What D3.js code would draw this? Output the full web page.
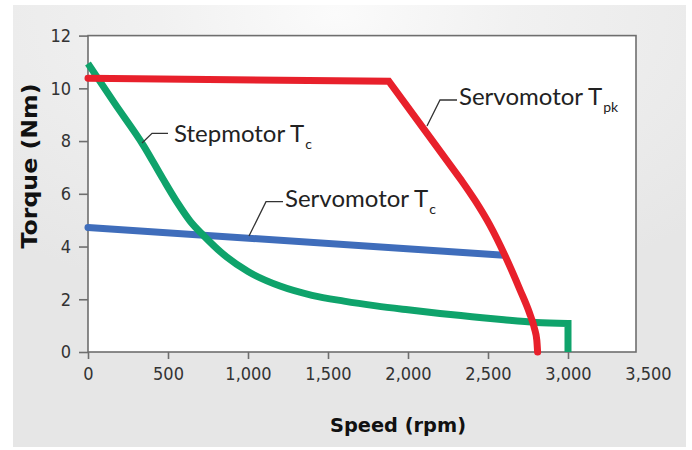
<!DOCTYPE html>
<html><head><meta charset="utf-8">
<script src="https://cdn.jsdelivr.net/npm/d3@7"></script>
<style>
html,body{margin:0;padding:0;background:#fff;}
svg{display:block;}
</style></head>
<body>
<svg id="chart" width="692" height="450"></svg>
<script>
// ---- data ----
const xTicks = [0, 500, 1000, 1500, 2000, 2500, 3000, 3500];
const yTicks = [0, 2, 4, 6, 8, 10, 12];
const servoPeakSpeed = [0, 1880, 2120, 2335, 2420, 2510, 2606, 2700, 2760, 2790, 2805, 2810];
const servoPeakTorque = [10.38, 10.27, 8.28, 6.5, 5.74, 4.83, 3.66, 2.36, 1.47, 0.9, 0.45, 0];
const stepSpeed = [0, 170, 346, 470, 560, 640, 720, 867, 1000, 1200, 1400, 1600, 1800, 2000, 2200, 2400, 2600, 2800, 3000, 3000];
const stepTorque = [10.94, 9.4, 7.84, 6.55, 5.65, 4.95, 4.43, 3.6, 3.05, 2.5, 2.15, 1.93, 1.75, 1.6, 1.46, 1.34, 1.22, 1.12, 1.08, 0];
const servoContSpeed = [0, 2600];
const servoContTorque = [4.72, 3.67];
const xLabel = "Speed (rpm)";
const yLabel = "Torque (Nm)";

const svg = d3.select("#chart");
const x = d3.scaleLinear().domain([0, 3500]).range([88, 648]);
const y = d3.scaleLinear().domain([0, 12]).range([352, 35.6]);
const frameRight = 636;

// background panel
const defs = svg.append("defs");
const rg = defs.append("radialGradient").attr("id", "bg").attr("cx", "0.48").attr("cy", "0.02").attr("r", "0.75")
  .attr("gradientTransform", "translate(0.48,0.02) scale(1,0.9) translate(-0.48,-0.02)");
rg.append("stop").attr("offset", "0").attr("stop-color", "#fbfbfb");
rg.append("stop").attr("offset", "0.35").attr("stop-color", "#f1f1f1");
rg.append("stop").attr("offset", "1").attr("stop-color", "#e6e6e6");
svg.append("rect").attr("x", 13).attr("y", 5).attr("width", 673).attr("height", 442).attr("fill", "url(#bg)");

// plot area
svg.append("rect").attr("x", x(0)).attr("y", y(12)).attr("width", frameRight - x(0)).attr("height", y(0) - y(12))
  .attr("fill", "#ffffff").attr("stroke", "#6e6e6e").attr("stroke-width", 1.6);

const tickFont = "'DejaVu Sans Condensed','Liberation Sans Narrow','Liberation Sans',sans-serif";

// y axis
const yAxis = svg.append("g").attr("transform", `translate(${x(0)},0)`)
  .call(d3.axisLeft(y).tickValues(yTicks).tickSize(9).tickPadding(8).tickFormat(d3.format("d")));
yAxis.select(".domain").remove();
yAxis.selectAll("line").attr("stroke", "#6e6e6e").attr("stroke-width", 1.6);
yAxis.selectAll("text").attr("font-family", tickFont).attr("font-size", 18).attr("fill", "#333");

// x axis
const xAxis = svg.append("g").attr("transform", `translate(0,${y(0)})`)
  .call(d3.axisBottom(x).tickValues(xTicks).tickSize(7).tickPadding(8).tickFormat(d3.format(",")));
xAxis.select(".domain").remove();
xAxis.selectAll("line").attr("stroke", "#6e6e6e").attr("stroke-width", 1.6);
xAxis.selectAll(".tick").filter(d => d === 3500).select("line").remove();
xAxis.selectAll("text").attr("font-family", tickFont).attr("font-size", 18).attr("fill", "#333");

// axis titles
const titleFont = "'DejaVu Sans', Lato, sans-serif";
svg.append("text").attr("x", 398).attr("y", 432).attr("text-anchor", "middle")
  .attr("font-family", titleFont).attr("font-weight", 700).attr("font-size", 19).attr("fill", "#111")
  .attr("textLength", 136).attr("lengthAdjust", "spacingAndGlyphs")
  .text(xLabel);
svg.append("text").attr("transform", "translate(37,166) rotate(-90)").attr("text-anchor", "middle")
  .attr("font-family", titleFont).attr("font-weight", 700).attr("font-size", 21).attr("fill", "#111")
  .attr("textLength", 165).attr("lengthAdjust", "spacingAndGlyphs")
  .text(yLabel);

// series
const line = d3.line().x(d => x(d[0])).y(d => y(d[1]));
const curve = d3.line().x(d => x(d[0])).y(d => y(d[1])).curve(d3.curveMonotoneX);

const blue = servoContSpeed.map((s, i) => [s, servoContTorque[i]]);
svg.append("path").attr("d", line(blue)).attr("fill", "none").attr("stroke", "#3f6dbb")
  .attr("stroke-width", 7).attr("stroke-linecap", "round");

const step = stepSpeed.map((s, i) => [s, stepTorque[i]]);
const stepCurve = step.slice(0, step.length - 1);
const stepDrop = step.slice(step.length - 2);
svg.append("path").attr("d", curve(stepCurve) + line(stepDrop).replace(/^M/, "L"))
  .attr("fill", "none").attr("stroke", "#0fa36b").attr("stroke-width", 7).attr("stroke-linejoin", "miter");

const red = servoPeakSpeed.map((s, i) => [s, servoPeakTorque[i]]);
svg.append("path").attr("d", line(red.slice(0, 4)) + curve(red.slice(3)).replace(/^M/, "L"))
  .attr("fill", "none").attr("stroke", "#e8202b").attr("stroke-width", 7).attr("stroke-linejoin", "miter")
  .attr("stroke-linecap", "round");

// annotations
const annFont = "Lato, 'Open Sans', sans-serif";
function annotate(pts, tx, ty, main, sub, subDx) {
  svg.append("path").attr("d", d3.line()(pts)).attr("fill", "none").attr("stroke", "#333").attr("stroke-width", 1.3);
  const t = svg.append("text").attr("x", tx).attr("y", ty).attr("font-family", annFont)
    .attr("font-size", 24).attr("fill", "#222");
  t.append("tspan").text(main);
  t.append("tspan").attr("dx", subDx).attr("dy", 7).attr("font-size", 14).text(sub);
}
annotate([[142, 143], [152, 133.3], [168, 133.3]], 174, 141.5, "Stepmotor T", "c", 1);
annotate([[249, 236], [266, 201.7], [283, 201.7]], 285, 206.5, "Servomotor T", "c", 1);
annotate([[427, 126], [440, 100], [457, 100]], 459, 105, "Servomotor T", "pk", 1);
</script>
</body></html>
